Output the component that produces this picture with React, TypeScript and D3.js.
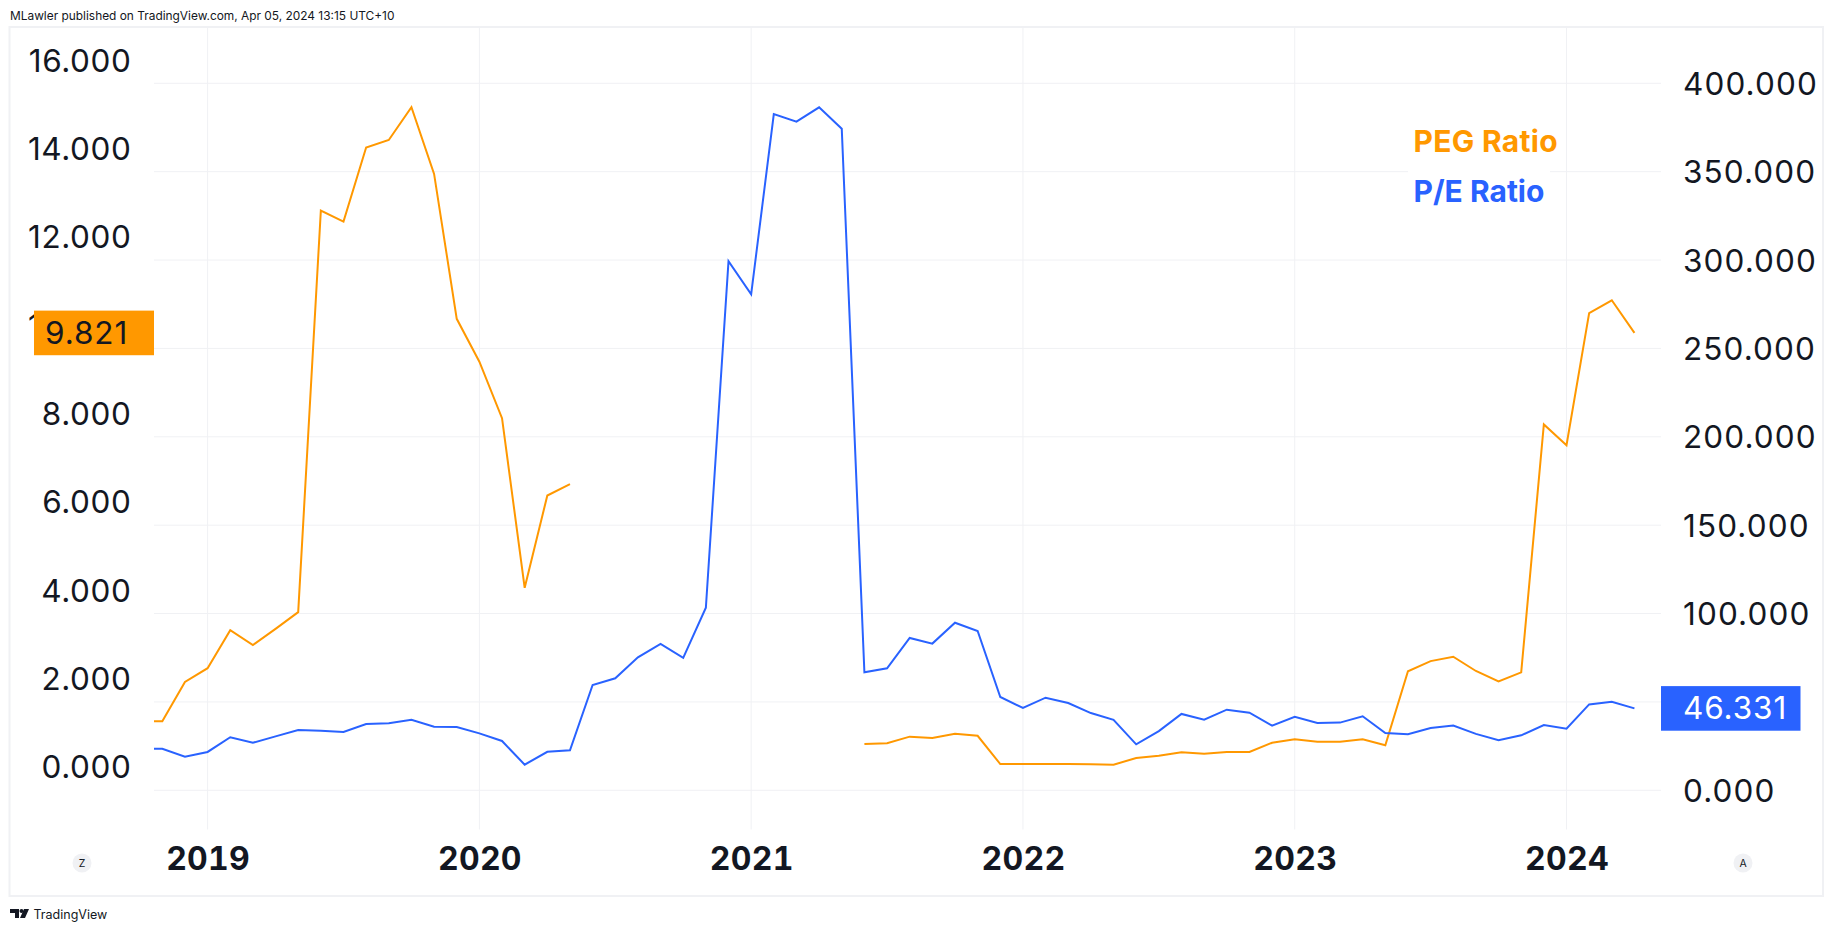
import * as d3 from "d3";
import { useEffect, useRef } from "react";

// month-end bars, first one is Oct 2018 (partly cut off by the left price scale)
const firstBar = -3; // bars counted from Jan 2019
const pegRatio: (number | null)[] = [
  1.03, 1.03, 1.92, 2.23, 3.09, 2.755, 3.12, 3.5, 12.59, 12.34, 14.02, 14.19, 14.93, 13.42, 10.14, 9.17, 7.89, 4.05,
  6.14, 6.4, null, null, null, null, null, null, null, null, null, null, null, null, 0.514, 0.53, 0.68, 0.65, 0.747,
  0.7, 0.06, 0.06, 0.06, 0.06, 0.055, 0.045, 0.197, 0.25, 0.325, 0.295, 0.333, 0.333, 0.543, 0.62, 0.566, 0.566, 0.62,
  0.484, 2.16, 2.39, 2.49, 2.167, 1.93, 2.137, 7.75, 7.28, 10.27, 10.56, 9.821,
];
const peRatio: number[] = [
  23.5, 23.5, 19.0, 21.7, 30.0, 26.9, 30.5, 34.1, 33.7, 33.0, 37.5, 37.9, 39.9, 36.0, 35.8, 32.2, 27.9, 14.5, 21.8,
  22.6, 59.6, 63.4, 75.2, 82.8, 74.9, 103.3, 299.3, 280.6, 382.6, 378.3, 386.4, 374.3, 66.8, 69.0, 86.2, 83.0, 94.8,
  90.1, 52.8, 46.6, 52.4, 49.4, 43.7, 39.9, 26.0, 33.5, 43.2, 39.9, 45.6, 43.9, 36.6, 41.6, 38.1, 38.3, 41.9, 32.4,
  31.7, 35.2, 36.6, 31.9, 28.3, 31.1, 36.9, 34.9, 48.6, 50.1, 46.331,
];
const leftTicks = [0, 2, 4, 6, 8, 10, 12, 14, 16];
const rightTicks = [0, 50, 100, 150, 200, 250, 300, 350, 400];
const yearTicks = [0, 12, 24, 36, 48, 60];
const yearLabels = ["2019", "2020", "2021", "2022", "2023", "2024"];
const lastPeg = "9.821";
const lastPe = "46.331";

const width = 1835;
const height = 931;
const orange = "#FF9800";
const blue = "#2962FF";
const ink = "#131722";
const gridColor = "#f0f1f4";
const font = "Inter, sans-serif";

const App = () => {
  const ref = useRef<SVGSVGElement>(null);

  useEffect(() => {
    const svg = d3.select(ref.current);
    const plot = { left: 154, right: 1661, top: 27, bottom: 829.5 };

    const x = d3.scaleLinear().domain([0, 60]).range([207.6, 1566.5]);
    const yLeft = d3.scaleLinear().domain([0, 16]).range([766.7, 60]);
    const yRight = d3.scaleLinear().domain([0, 400]).range([790.3, 83.3]);

    svg.attr("width", width).attr("height", height).attr("font-family", font);
    svg.append("rect").attr("width", width).attr("height", height).attr("fill", "#fff");

    // header and outer frame
    svg
      .append("text")
      .attr("x", 10)
      .attr("y", 20)
      .attr("font-size", 11.9)
      .attr("fill", ink)
      .text("MLawler published on TradingView.com, Apr 05, 2024 13:15 UTC+10");
    svg
      .append("rect")
      .attr("x", 9.5)
      .attr("y", 27)
      .attr("width", 1813.5)
      .attr("height", 869)
      .attr("fill", "none")
      .attr("stroke", "#f0f1f4")
      .attr("stroke-width", 2);

    // grid
    svg
      .append("g")
      .selectAll("line")
      .data(yearTicks)
      .join("line")
      .attr("x1", (d) => x(d))
      .attr("x2", (d) => x(d))
      .attr("y1", plot.top)
      .attr("y2", plot.bottom)
      .attr("stroke", gridColor);
    svg
      .append("g")
      .selectAll("line")
      .data(rightTicks)
      .join("line")
      .attr("x1", plot.left)
      .attr("x2", plot.right)
      .attr("y1", (d) => yRight(d))
      .attr("y2", (d) => yRight(d))
      .attr("stroke", gridColor);

    // legend sits on a white patch that hides the gridline
    svg.append("rect").attr("x", 1408).attr("y", 130).attr("width", 142).attr("height", 84).attr("fill", "#fff");
    svg
      .append("text")
      .attr("x", 1413.5)
      .attr("y", 151.5)
      .attr("font-size", 30)
      .attr("font-weight", 700)
      .attr("letter-spacing", 0.3)
      .attr("fill", orange)
      .text("PEG Ratio");
    svg
      .append("text")
      .attr("x", 1413.5)
      .attr("y", 201.5)
      .attr("font-size", 30)
      .attr("font-weight", 700)
      .attr("fill", blue)
      .text("P/E Ratio");

    // series
    const clip = svg.append("clipPath").attr("id", "plot-clip");
    clip
      .append("rect")
      .attr("x", plot.left)
      .attr("y", plot.top)
      .attr("width", plot.right - plot.left)
      .attr("height", plot.bottom - plot.top);
    const lines = svg.append("g").attr("clip-path", "url(#plot-clip)").attr("fill", "none").attr("stroke-width", 2);

    const pegLine = d3
      .line<number | null>()
      .defined((d) => d !== null)
      .x((_, i) => x(firstBar + i))
      .y((d) => yLeft(d as number));
    const peLine = d3
      .line<number>()
      .x((_, i) => x(firstBar + i))
      .y((d) => yRight(d));

    lines.append("path").attr("d", pegLine(pegRatio)).attr("stroke", orange);
    lines.append("path").attr("d", peLine(peRatio)).attr("stroke", blue);

    // axes
    const styleAxis = (g: any, weight: number, size: number, spacing: number, numerals: string) => {
      g.select(".domain").remove();
      g.selectAll("line").remove();
      g.selectAll("text")
        .attr("dy", "0.35em")
        .attr("font-size", size)
        .attr("letter-spacing", spacing)
        .attr("font-family", font)
        .attr("font-weight", weight)
        .attr("fill", ink)
        .style("font-variant-numeric", numerals);
    };

    svg
      .append("g")
      .attr("transform", "translate(131.5,0)")
      .call(d3.axisLeft(yLeft).tickValues(leftTicks).tickFormat(d3.format(".3f")).tickSize(0).tickPadding(0))
      .call(styleAxis, 400, 31.5, 0.6, "normal");

    svg
      .append("g")
      .attr("transform", "translate(1683,0)")
      .call(d3.axisRight(yRight).tickValues(rightTicks).tickFormat(d3.format(".3f")).tickSize(0).tickPadding(0))
      .call(styleAxis, 400, 31.5, 1.1, "normal");

    svg
      .append("g")
      .attr("transform", "translate(0,859)")
      .call(
        d3
          .axisBottom(x)
          .tickValues(yearTicks)
          .tickFormat((_, i) => yearLabels[i])
          .tickSize(0)
          .tickPadding(0)
      )
      .call(styleAxis, 700, 32, 0.3, "tabular-nums")
      .selectAll("text")
      .attr("y", 0);

    // last value badges
    const pegY = yLeft(pegRatio[pegRatio.length - 1] as number);
    const peY = yRight(peRatio[peRatio.length - 1]);
    svg.append("rect").attr("x", 34).attr("y", pegY - 22.3).attr("width", 120).attr("height", 44.6).attr("fill", orange);
    svg
      .append("text")
      .attr("x", 45)
      .attr("y", pegY)
      .attr("dy", "0.35em")
      .attr("font-size", 31.5)
      .attr("letter-spacing", 0.9)
      .attr("fill", ink)
      .text(lastPeg);
    svg.append("rect").attr("x", 1661).attr("y", peY - 22.3).attr("width", 139.5).attr("height", 44.6).attr("fill", blue);
    svg
      .append("text")
      .attr("x", 1683)
      .attr("y", peY)
      .attr("dy", "0.35em")
      .attr("font-size", 31.5)
      .attr("letter-spacing", 0.9)
      .attr("fill", "#fff")
      .text(lastPe);

    // scale mode buttons
    [
      { cx: 82, label: "Z" },
      { cx: 1743, label: "A" },
    ].forEach((b) => {
      svg.append("circle").attr("cx", b.cx).attr("cy", 863).attr("r", 9.5).attr("fill", "#f0f1f4");
      svg
        .append("text")
        .attr("x", b.cx)
        .attr("y", 867)
        .attr("text-anchor", "middle")
        .attr("font-size", 10.5)
        .attr("fill", ink)
        .text(b.label);
    });

    // footer
    svg
      .append("path")
      .attr("d", "M10 909h9v9h-4v-5h-5z M24 909h5l-4 9h-5z")
      .attr("fill", ink);
    svg.append("circle").attr("cx", 21.5).attr("cy", 911).attr("r", 2).attr("fill", ink);
    svg.append("text").attr("x", 33.5).attr("y", 919).attr("font-size", 12.5).attr("fill", ink).text("TradingView");

    return () => {
      svg.selectAll("*").remove();
    };
  }, []);

  return <svg ref={ref} style={{ position: "absolute", left: 0, top: 0 }}></svg>;
};

export default App;
